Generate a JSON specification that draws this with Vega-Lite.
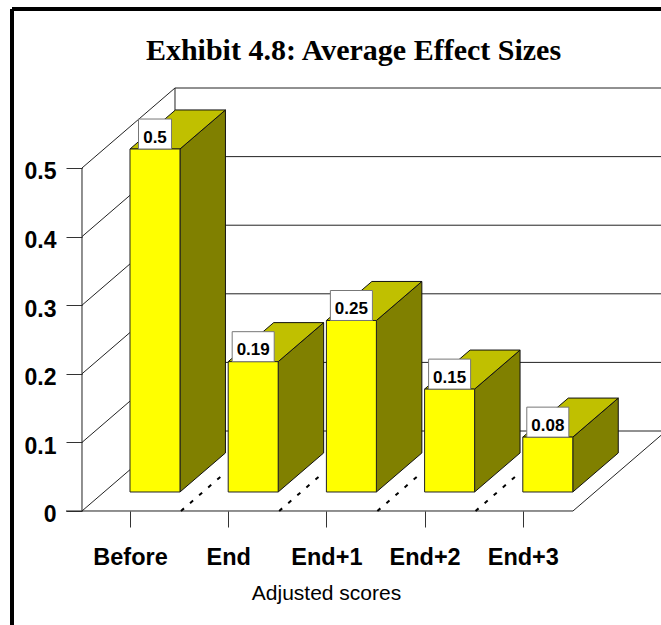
{"$schema":"https://vega.github.io/schema/vega-lite/v6.json","width":661,"height":625,"padding":0,"autosize":{"type":"none"},"background":"white","view":{"stroke":null},
"title":{"text":"Exhibit 4.8: Average Effect Sizes","font":"Liberation Serif","fontWeight":"bold","fontSize":30,"color":"black","anchor":"middle","dx":23,"offset":-90,"baseline":"alphabetic"},
"datasets":{"bars":[{"label":"Before","value":0.5},{"label":"End","value":0.19},{"label":"End+1","value":0.25},{"label":"End+2","value":0.15},{"label":"End+3","value":0.08}],
"ticks":[{"value":0},{"value":0.1},{"value":0.2},{"value":0.3},{"value":0.4},{"value":0.5}],
"lines":[{"part":"frontFloor"},{"part":"sideFloor"},{"part":"frontWall"},{"part":"backWall"}],
"frame":[{"part":"left"},{"part":"top"}]},
"encoding":{
"x":{"field":"x","type":"quantitative","scale":{"domain":[-1.3238,5.4073],"nice":false,"zero":false},"axis":{"values":[0,1,2,3,4],"orient":"bottom","offset":-114,"grid":false,"domain":false,"tickSize":16,"tickColor":"#333","labelExpr":"['Before','End','End+1','End+2','End+3'][datum.value]","labelFont":"Liberation Sans","labelFontWeight":"bold","labelFontSize":23.5,"labelColor":"black","labelPadding":18,"labelOverlap":false,"labelBound":false,"labelFlush":false,"title":"Adjusted scores","titleFont":"Liberation Sans","titleFontWeight":"normal","titleFontSize":21,"titleColor":"black","titleX":326,"titleY":88,"titleBaseline":"alphabetic","titleAlign":"center"}},
"y":{"field":"y","type":"quantitative","scale":{"domain":[-0.1662,0.7449],"nice":false,"zero":false},"axis":{"values":[0,0.1,0.2,0.3,0.4,0.5],"format":"~g","orient":"left","offset":-82,"grid":false,"domain":false,"tickSize":16,"tickColor":"#333","labelFont":"Liberation Sans","labelFontWeight":"bold","labelFontSize":23,"labelColor":"black","labelPadding":10,"labelOffset":4,"labelOverlap":false,"labelBound":false,"labelFlush":false,"title":null}}
},
"layer":[
{"data":{"name":"frame"},"transform":[{"calculate":"{left:-1.2016,top:-1.2016}[datum.part]","as":"x"},{"calculate":"{left:-1.2016,top:5.4073}[datum.part]","as":"x2"},{"calculate":"{left:-0.1662,top:0.7318}[datum.part]","as":"y"},{"calculate":"0.7318","as":"y2"}],"mark":{"type":"rule","color":"black","strokeWidth":4},"encoding":{"x2":{"field":"x2"},"y2":{"field":"y2"}}},
{"data":{"name":"ticks"},"transform":[{"calculate":"0.4582","as":"x"},{"calculate":"5.4073","as":"x2"},{"calculate":"datum.value+0.1166","as":"y"}],"mark":{"type":"rule","color":"#222","strokeWidth":1},"encoding":{"x2":{"field":"x2"}}},
{"data":{"name":"ticks"},"transform":[{"calculate":"-0.4888","as":"x"},{"calculate":"0.4582","as":"x2"},{"calculate":"datum.value","as":"y"},{"calculate":"datum.value+0.1166","as":"y2"}],"mark":{"type":"rule","color":"#222","strokeWidth":1},"encoding":{"x2":{"field":"x2"},"y2":{"field":"y2"}}},
{"data":{"name":"lines"},"transform":[{"calculate":"{frontFloor:-0.6517,sideFloor:4.511,frontWall:-0.4888,backWall:0.4582}[datum.part]","as":"x"},{"calculate":"{frontFloor:4.511,sideFloor:5.4073,frontWall:-0.4888,backWall:0.4582}[datum.part]","as":"x2"},{"calculate":"{frontFloor:0,sideFloor:0,frontWall:0,backWall:0.1166}[datum.part]","as":"y"},{"calculate":"{frontFloor:0,sideFloor:0.1103,frontWall:0.5,backWall:0.6166}[datum.part]","as":"y2"}],"mark":{"type":"rule","color":"#222","strokeWidth":1},"encoding":{"x2":{"field":"x2"},"y2":{"field":"y2"}}},
{"data":{"name":"bars"},"transform":[{"filter":"datum.label!='End+3'"},{"calculate":"indexof(['Before','End','End+1','End+2','End+3'],datum.label)+0.519","as":"x"},{"calculate":"datum.x+0.42","as":"x2"},{"calculate":"0","as":"y"},{"calculate":"0.052","as":"y2"}],"mark":{"type":"rule","color":"black","strokeWidth":2,"strokeDash":[4,8]},"encoding":{"x2":{"field":"x2"},"y2":{"field":"y2"}}},
{"data":{"name":"bars"},"transform":[{"calculate":"[0,1]","as":"t"},{"flatten":["t"]},{"calculate":"indexof(['Before','End','End+1','End+2','End+3'],datum.label)+0.509+datum.t*0.463","as":"x"},{"calculate":"0.0277+datum.t*0.0569","as":"y"},{"calculate":"datum.y+datum.value","as":"y2"}],"mark":{"type":"area","orient":"vertical","color":"#808000","stroke":"#111","strokeWidth":1,"opacity":1},"encoding":{"y2":{"field":"y2"},"detail":{"field":"label"}}},
{"data":{"name":"bars"},"transform":[{"calculate":"[0,1]","as":"t"},{"flatten":["t"]},{"calculate":"indexof(['Before','End','End+1','End+2','End+3'],datum.label)+datum.t*0.463","as":"x"},{"calculate":"datum.x+0.509","as":"x2"},{"calculate":"0.0277+datum.value+datum.t*0.0569","as":"y"}],"mark":{"type":"area","orient":"horizontal","color":"#c0c000","stroke":"#111","strokeWidth":1,"opacity":1},"encoding":{"x2":{"field":"x2"},"detail":{"field":"label"}}},
{"data":{"name":"bars"},"transform":[{"calculate":"indexof(['Before','End','End+1','End+2','End+3'],datum.label)","as":"x"},{"calculate":"datum.x+0.509","as":"x2"},{"calculate":"0.0277","as":"y"},{"calculate":"0.0277+datum.value","as":"y2"}],"mark":{"type":"rect","color":"#ffff00","stroke":"#222","strokeWidth":1,"opacity":1},"encoding":{"x2":{"field":"x2"},"y2":{"field":"y2"}}},
{"data":{"name":"bars"},"transform":[{"calculate":"length(toString(datum.value))==3?0.168:0.214","as":"hw"},{"calculate":"indexof(['Before','End','End+1','End+2','End+3'],datum.label)+0.2546-datum.hw","as":"x"},{"calculate":"datum.x+2*datum.hw","as":"x2"},{"calculate":"0.0277+datum.value","as":"y"},{"calculate":"datum.y+0.0437","as":"y2"}],"mark":{"type":"rect","color":"white","stroke":"#777","strokeWidth":1,"opacity":1},"encoding":{"x2":{"field":"x2"},"y2":{"field":"y2"}}},
{"data":{"name":"bars"},"transform":[{"calculate":"indexof(['Before','End','End+1','End+2','End+3'],datum.label)+0.2546","as":"x"},{"calculate":"0.0277+datum.value+0.0165","as":"y"}],"mark":{"type":"text","font":"Liberation Sans","fontWeight":"bold","fontSize":17,"color":"black","baseline":"middle","align":"center"},"encoding":{"text":{"field":"value","type":"nominal"}}}
],
"config":{"style":{"cell":{"stroke":null}}}}
